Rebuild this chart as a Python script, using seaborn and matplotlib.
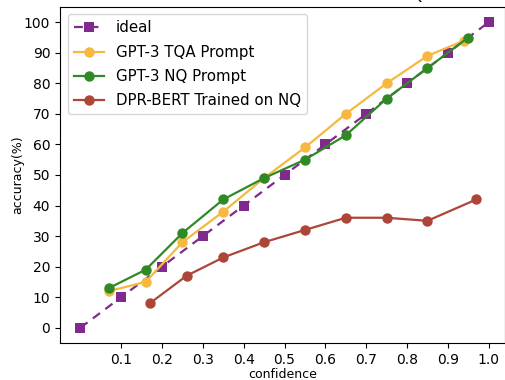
import matplotlib
matplotlib.use("Agg")
import matplotlib.pyplot as plt
import seaborn as sns
import pandas as pd

ideal_x = [0.0, 0.1, 0.2, 0.3, 0.4, 0.5, 0.6, 0.7, 0.8, 0.9, 1.0]
ideal_y = [0, 10, 20, 30, 40, 50, 60, 70, 80, 90, 100]

tqa_x = [0.07, 0.16, 0.25, 0.35, 0.45, 0.55, 0.65, 0.75, 0.85, 0.94]
tqa_y = [12, 15, 28, 38, 49, 59, 70, 80, 89, 94]

nq_x = [0.07, 0.16, 0.25, 0.35, 0.45, 0.55, 0.65, 0.75, 0.85, 0.95]
nq_y = [13, 19, 31, 42, 49, 55, 63, 75, 85, 95]

dpr_x = [0.17, 0.26, 0.35, 0.45, 0.55, 0.65, 0.75, 0.85, 0.97]
dpr_y = [8, 17, 23, 28, 32, 36, 36, 35, 42]

xticks = [0.1, 0.2, 0.3, 0.4, 0.5, 0.6, 0.7, 0.8, 0.9, 1.0]
yticks = [0, 10, 20, 30, 40, 50, 60, 70, 80, 90, 100]

plt.rcParams['font.family'] = ['DejaVu Sans']
fig = plt.figure(figsize=(5.06, 3.8), dpi=100)
ax = fig.add_axes([0.1186, 0.0974, 0.8794, 0.8842])

purple = "#7f2a8c"
orange = "#f5b841"
green = "#2f8a25"
red = "#ad4639"

sns.lineplot(x=ideal_x, y=ideal_y, ax=ax, color=purple, marker="s", markersize=7,
             markeredgewidth=0, linestyle=(0, (4, 3)), linewidth=1.6, label="ideal")
sns.lineplot(x=tqa_x, y=tqa_y, ax=ax, color=orange, marker="o", markersize=7.5,
             markeredgewidth=0, linewidth=1.6, label="GPT-3 TQA Prompt")
sns.lineplot(x=nq_x, y=nq_y, ax=ax, color=green, marker="o", markersize=7.5,
             markeredgewidth=0, linewidth=1.6, label="GPT-3 NQ Prompt")
sns.lineplot(x=dpr_x, y=dpr_y, ax=ax, color=red, marker="o", markersize=7.5,
             markeredgewidth=0, linewidth=1.6, label="DPR-BERT Trained on NQ")

ax.set_xlim(-0.05, 1.04)
ax.set_ylim(-5, 105)
ax.set_xticks(xticks)
ax.set_xticklabels([f"{t:.1f}" for t in xticks])
ax.set_yticks(yticks)
ax.tick_params(labelsize=10)
ax.set_xlabel("confidence", fontsize=9, labelpad=1)
ax.set_ylabel("accuracy(%)", fontsize=9, labelpad=0)
ax.set_title("In-domain and OOD models on TriviaQA", fontsize=11, pad=5)
ax.legend(loc="upper left", fontsize=10.8, handlelength=2.0, borderaxespad=0.5,
          labelspacing=0.62)

fig.savefig("out.png", dpi=100)
